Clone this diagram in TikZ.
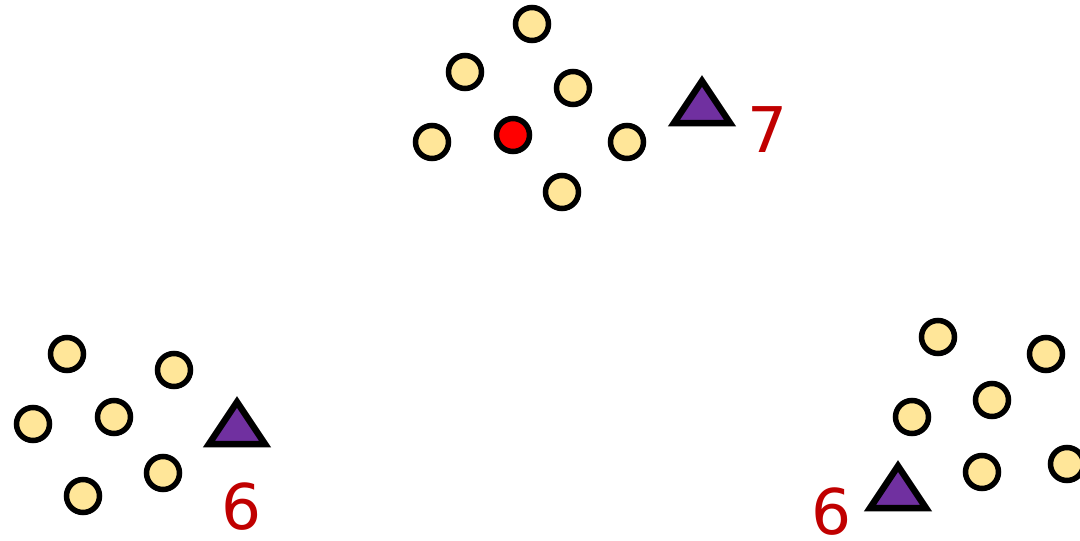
\documentclass[tikz,border=0pt]{standalone}
\usepackage{fontspec}
\setmainfont{DejaVu Sans}
\definecolor{dotfill}{HTML}{FFE699}
\definecolor{tripurple}{HTML}{7030A0}
\definecolor{labred}{HTML}{C00000}
\tikzset{
  dot/.style={circle, draw=black, line width=5.5pt, fill=dotfill, minimum size=33pt, inner sep=0pt},
  reddot/.style={dot, fill=red},
  tri/.style={draw=black, line width=6.5pt, line join=miter, fill=tripurple},
  lab/.style={text=labred, inner sep=0pt, font=\fontsize{63}{70}\selectfont}
}
\begin{document}
\begin{tikzpicture}[x=1pt, y=-1pt]
\useasboundingbox (0,0) rectangle (1080,541);
\clip (0,0) rectangle (1080,541);
% top cluster
\node[dot] (a1) at (532,24) {};
\node[dot] (a2) at (465,72) {};
\node[dot] (a3) at (573,88) {};
\node[dot] (a4) at (432,142) {};
\node[reddot] (a5) at (513,135) {};
\node[dot] (a6) at (627,142) {};
\node[dot] (a7) at (562,192) {};
\coordinate (ta) at (702,123);
\draw[tri, shift={(ta)}] (-28,0) -- (0,-42) -- (28,0) -- cycle;
\node[lab] (la) at (768,130) {7};
% bottom left cluster
\node[dot] (b1) at (67,354) {};
\node[dot] (b2) at (174,370) {};
\node[dot] (b3) at (33,424) {};
\node[dot] (b4) at (114,417) {};
\node[dot] (b5) at (163,473) {};
\node[dot] (b6) at (83,496) {};
\coordinate (tb) at (237,444);
\draw[tri, shift={(tb)}] (-28,0) -- (0,-42) -- (28,0) -- cycle;
\node[lab] (lb) at (242,507) {6};
% bottom right cluster
\node[dot] (c1) at (938,337) {};
\node[dot] (c2) at (1046,354) {};
\node[dot] (c3) at (992,400) {};
\node[dot] (c4) at (912,417) {};
\node[dot] (c5) at (982,472) {};
\node[dot] (c6) at (1067,464) {};
\coordinate (tc) at (898,508);
\draw[tri, shift={(tc)}] (-28,0) -- (0,-42) -- (28,0) -- cycle;
\node[lab] (lc) at (832,512) {6};
\end{tikzpicture}
\end{document}
